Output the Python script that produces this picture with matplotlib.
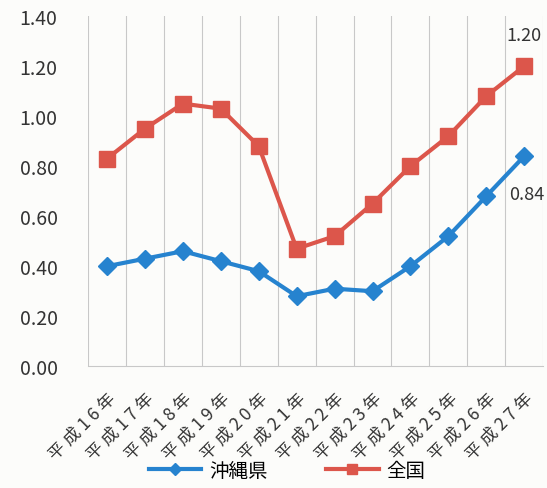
import matplotlib
matplotlib.use('Agg')
import matplotlib.pyplot as plt
import matplotlib.transforms as mtransforms

plt.rcParams['font.family'] = ['Noto Sans CJK JP', 'DejaVu Sans']

# データ
years = ['平成16年', '平成17年', '平成18年', '平成19年', '平成20年', '平成21年',
         '平成22年', '平成23年', '平成24年', '平成25年', '平成26年', '平成27年']
okinawa = [0.40, 0.43, 0.46, 0.42, 0.38, 0.28, 0.31, 0.30, 0.40, 0.52, 0.68, 0.84]
zenkoku = [0.83, 0.95, 1.05, 1.03, 0.88, 0.47, 0.52, 0.65, 0.80, 0.92, 1.08, 1.20]
x = list(range(len(years)))

blue = '#2683cf'
red = '#dc564b'

fig = plt.figure(figsize=(5.47, 4.89), dpi=100, facecolor='#fcfcfa')
ax = fig.add_axes([0.161, 0.249, 0.832, 0.716])
ax.set_facecolor('#fcfcfa')

ax.plot(x, okinawa, marker='D', markersize=9, lw=3, color=blue, label='沖縄県')
ax.plot(x, zenkoku, marker='s', markersize=11, lw=3, color=red, label='全国')

# 最終年のラベル
ax.annotate(f'{zenkoku[-1]:.2f}', (x[-1], zenkoku[-1]), xytext=(0, 16),
            textcoords='offset points', ha='center', va='bottom', fontsize=13, color='#333333')
ax.annotate(f'{okinawa[-1]:.2f}', (x[-1], okinawa[-1]), xytext=(2, -27),
            textcoords='offset points', ha='center', va='center', fontsize=13, color='#333333')

ax.set_xlim(-0.5, len(years) - 0.5)
ax.set_ylim(0, 1.4)
ax.set_yticks([0, 0.2, 0.4, 0.6, 0.8, 1.0, 1.2, 1.4])
ax.set_yticklabels([f'{v:.2f}' for v in ax.get_yticks()], fontsize=14, color='#333333')
ax.set_xticks(x)
# 文字間を空けた目盛ラベル
spaced = [' '.join(list(y)) for y in years]
ax.set_xticklabels(spaced, rotation=45, ha='right', rotation_mode='anchor',
                   fontsize=12.5, color='#333333')
shift = mtransforms.ScaledTranslation(-5 / 100, 0, fig.dpi_scale_trans)
for lab in ax.get_xticklabels():
    lab.set_transform(lab.get_transform() + shift)
ax.tick_params(axis='both', length=0)
ax.tick_params(axis='y', pad=22)
ax.tick_params(axis='x', pad=16)

# カテゴリ境界の縦線
ax.set_xticks([i - 0.5 for i in range(len(years) + 1)], minor=True)
ax.tick_params(axis='x', which='minor', length=0)
ax.grid(True, axis='x', which='minor', color='#c8c8c8', lw=0.8)
for s in ['top', 'right', 'left']:
    ax.spines[s].set_visible(False)
ax.spines['bottom'].set_color('#c8c8c8')

fig.legend(loc='center', bbox_to_anchor=(0.525, 0.036), ncol=2, frameon=False,
           fontsize=14, handlelength=2.7, columnspacing=3.0, handletextpad=0.4,
           markerscale=0.65)

plt.savefig('out.png', dpi=100, facecolor=fig.get_facecolor())
